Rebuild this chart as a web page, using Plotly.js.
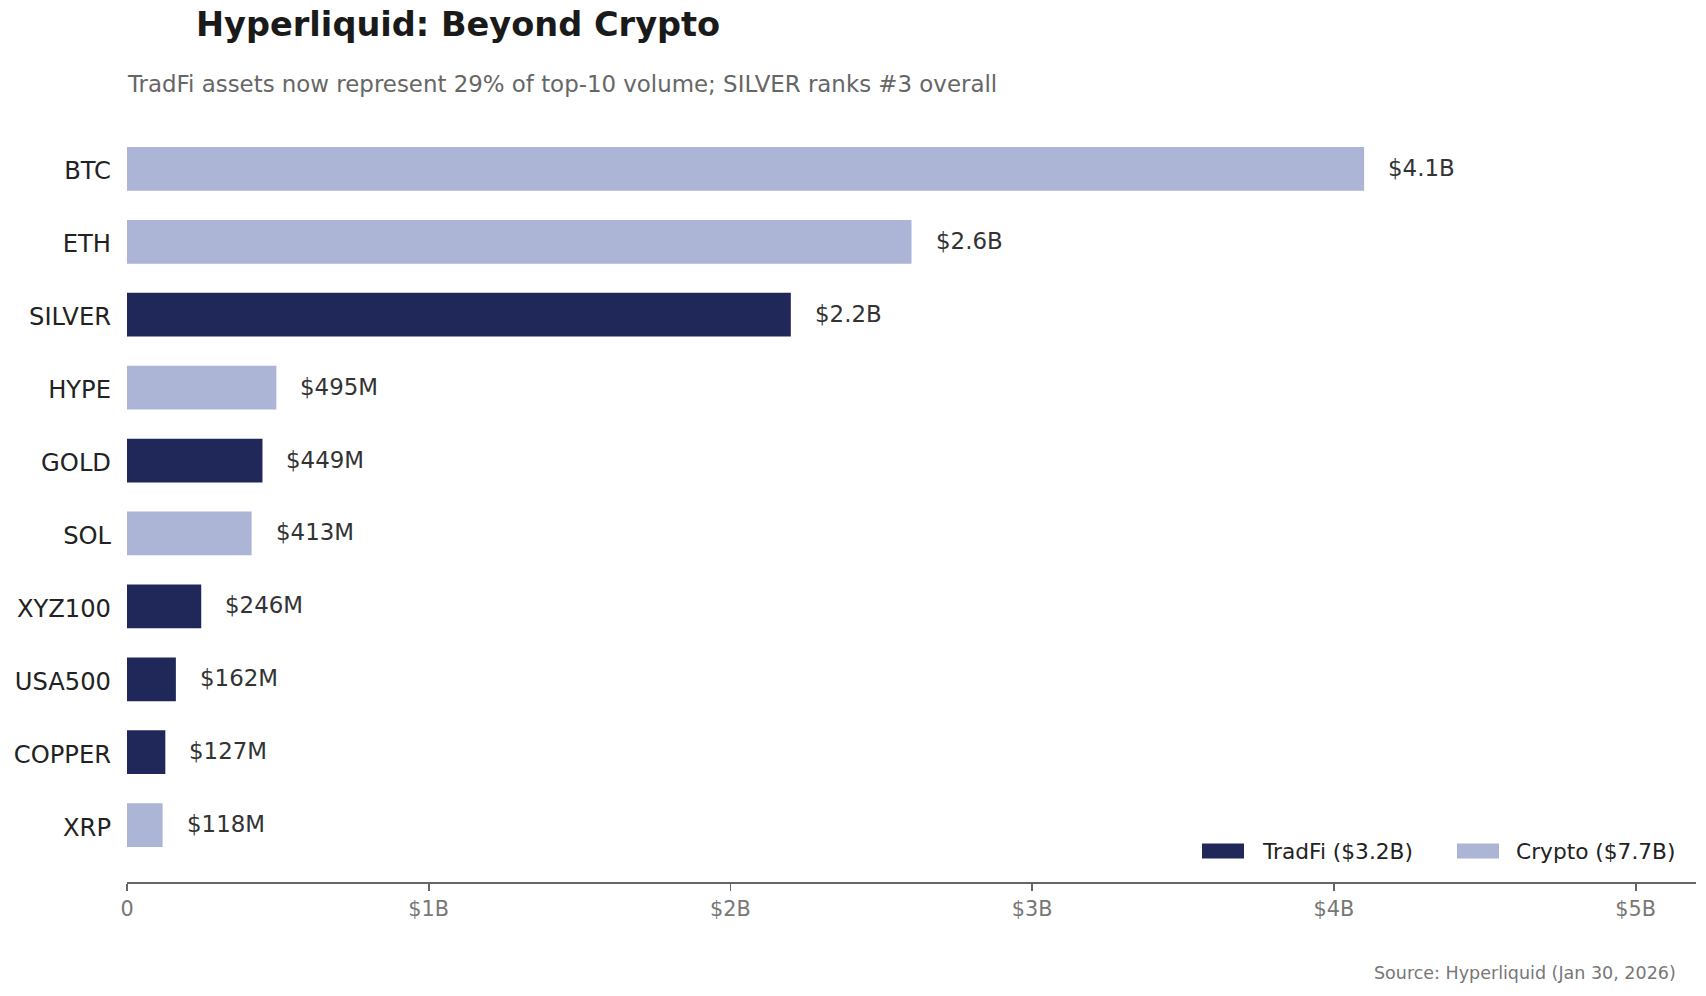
<!DOCTYPE html>
<html>
<head>
<meta charset="utf-8">
<script src="https://cdn.plot.ly/plotly-3.0.1.min.js"></script>
<style>
  html, body { margin: 0; padding: 0; background: #ffffff; }
  #chart { width: 1706px; height: 996px; }
</style>
</head>
<body>
<div id="chart"></div>
<script>
// ---- Data ----
const categories = ['BTC', 'ETH', 'SILVER', 'HYPE', 'GOLD', 'SOL', 'XYZ100', 'USA500', 'COPPER', 'XRP'];
const volumes = [4.1e9, 2.6e9, 2.2e9, 495e6, 449e6, 413e6, 246e6, 162e6, 127e6, 118e6];
const groups = ['Crypto', 'Crypto', 'TradFi', 'Crypto', 'TradFi', 'Crypto', 'TradFi', 'TradFi', 'TradFi', 'Crypto'];
const valueLabels = ['$4.1B', '$2.6B', '$2.2B', '$495M', '$449M', '$413M', '$246M', '$162M', '$127M', '$118M'];
const groupNames = ['TradFi', 'Crypto'];
const tickValues = [0, 1e9, 2e9, 3e9, 4e9, 5e9];
const tickLabels = ['0', '$1B', '$2B', '$3B', '$4B', '$5B'];

// ---- Styling ----
const groupColors = { TradFi: '#20285A', Crypto: '#ACB5D5' };
const FONT = 'DejaVu Sans, Liberation Sans, sans-serif';

const W = 1706, H = 996;
const M = { l: 127, r: 10, t: 112, b: 114 };
const PW = W - M.l - M.r, PH = H - M.t - M.b;
const px2x = px => (px - M.l) / PW;
const py2y = py => (H - M.b - py) / PH;

function fmtTotal(v) { return '$' + (v / 1e9).toFixed(1) + 'B'; }

const traces = groupNames.map(g => {
  const xs = [], ys = [];
  categories.forEach((c, i) => { if (groups[i] === g) { xs.push(volumes[i]); ys.push(c); } });
  return {
    type: 'bar', orientation: 'h', x: xs, y: ys, name: g,
    width: 0.6,
    marker: { color: groupColors[g], line: { width: 0 } },
    hoverinfo: 'x+y', showlegend: false
  };
});

const annotations = categories.map((c, i) => ({
  x: volumes[i], y: c, xref: 'x', yref: 'y',
  text: valueLabels[i], showarrow: false,
  xanchor: 'left', yanchor: 'middle', xshift: 22, yshift: 1,
  font: { family: FONT, size: 22.9, color: '#333333' }
}));

// subtitle
annotations.push({
  xref: 'paper', yref: 'paper', x: px2x(125), y: py2y(84),
  xanchor: 'left', yanchor: 'middle', showarrow: false,
  text: 'TradFi assets now represent 29% of top-10 volume; SILVER ranks #3 overall',
  font: { family: FONT, size: 22.9, color: '#666666' }
});
// source
annotations.push({
  xref: 'paper', yref: 'paper', x: px2x(1678), y: py2y(973),
  xanchor: 'right', yanchor: 'middle', showarrow: false,
  text: 'Source: Hyperliquid (Jan 30, 2026)',
  font: { family: FONT, size: 17.5, color: '#777777' }
});

// custom legend (wide swatches)
const shapes = [];
const legendSwatchX = [1202, 1457];
const legendTextX = [1260, 1514];
groupNames.forEach((g, k) => {
  const total = volumes.reduce((s, v, i) => s + (groups[i] === g ? v : 0), 0);
  shapes.push({
    type: 'rect', xref: 'paper', yref: 'paper',
    x0: px2x(legendSwatchX[k]), x1: px2x(legendSwatchX[k] + 42),
    y0: py2y(858.5), y1: py2y(843.5),
    fillcolor: groupColors[g], line: { width: 0 }
  });
  annotations.push({
    xref: 'paper', yref: 'paper', x: px2x(legendTextX[k]), y: py2y(851),
    xanchor: 'left', yanchor: 'middle', showarrow: false,
    text: g + ' (' + fmtTotal(total) + ')',
    font: { family: FONT, size: 21.7, color: '#222222' }
  });
});

const layout = {
  width: W, height: H, autosize: false,
  margin: { l: M.l, r: M.r, t: M.t, b: M.b, pad: 0 },
  paper_bgcolor: '#ffffff', plot_bgcolor: '#ffffff',
  font: { family: FONT },
  barmode: 'overlay',
  showlegend: false,
  title: {
    text: 'Hyperliquid: Beyond Crypto',
    xref: 'container', yref: 'container',
    x: 196 / W, xanchor: 'left',
    y: 1 - 24 / H, yanchor: 'middle',
    font: { family: FONT, size: 33.6, color: '#1a1a1a', weight: 700 }
  },
  xaxis: {
    range: [0, 5.2e9], fixedrange: true,
    tickmode: 'array', tickvals: tickValues, ticktext: tickLabels,
    ticks: 'outside', ticklen: 7, tickwidth: 1.7, tickcolor: '#666666',
    showline: true, linecolor: '#666666', linewidth: 1.7,
    showgrid: false, zeroline: false,
    ticklabelstandoff: 0,
    tickfont: { family: FONT, size: 20.8, color: '#777777' }
  },
  yaxis: {
    type: 'category', categoryorder: 'array', categoryarray: categories,
    range: [9.78, -0.78], fixedrange: true,
    ticks: '', showline: false, showgrid: false, zeroline: false,
    ticklabelstandoff: 15, ticklabelshift: -2,
    tickfont: { family: FONT, size: 24.2, color: '#222222' }
  },
  annotations: annotations,
  shapes: shapes
};

Plotly.newPlot('chart', traces, layout, { displayModeBar: false, staticPlot: true });
</script>
</body>
</html>
